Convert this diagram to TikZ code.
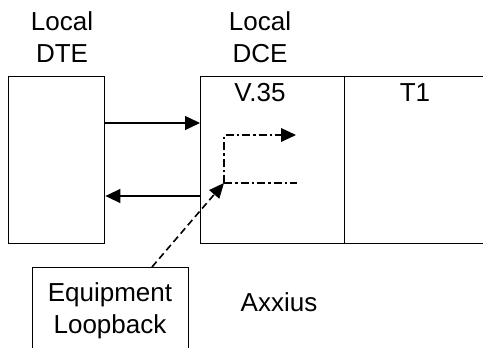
\documentclass[tikz,border=0pt]{standalone}
\usepackage{fontspec}
\setmainfont{Liberation Sans}
\usetikzlibrary{arrows.meta}
\begin{document}
\begin{tikzpicture}[x=1pt,y=-1pt,
  box/.style={draw,line width=1.4pt,rectangle,inner sep=0pt,anchor=north west},
  lbl/.style={font=\fontsize{26}{32}\selectfont,align=center,inner sep=0pt},
  tip/.style={-{Triangle[length=15pt,width=14pt]}},
  line/.style={line width=1.4pt},
  dashdot/.style={line width=1.6pt,dash pattern=on 8pt off 3pt on 2.5pt off 3pt},
  dashline/.style={line width=1.6pt,dash pattern=on 7pt off 4pt}]
\useasboundingbox (0,0) rectangle (483,348);
\clip (0,0) rectangle (483,348);
% boxes
\node[box,minimum width=96pt,minimum height=167pt] (dte) at (8,76) {};
\node[box,minimum width=144pt,minimum height=167pt] (dce) at (200,76) {};
\node[box,minimum width=160pt,minimum height=167pt] (t1) at (344,76) {};
\node[box,minimum width=156pt,minimum height=100pt] (eq) at (32,267) {};
% labels
\node[lbl,anchor=base] (ldte) at (62,62.5) {Local\\DTE};
\node[lbl,anchor=base] (ldce) at (260,62.5) {Local\\DCE};
\node[lbl,anchor=base] (v35) at (260,101.5) {V.35};
\node[lbl,anchor=base] (t1l) at (415,101.5) {T1};
\node[lbl,anchor=base] (eql) at (110,333) {Equipment\\Loopback};
\node[lbl,anchor=base] (ax) at (279,311.5) {Axxius};
% coordinates
\coordinate (a1) at (dte.east |- 0,123);
\coordinate (a2) at (dce.west |- 0,123);
\coordinate (b1) at (dce.west |- 0,196);
\coordinate (b2) at (dte.east |- 0,196);
\coordinate (lp) at (224,183);
\coordinate (lu) at (224,135);
\coordinate (lo) at (296,135);
\coordinate (le) at (297,183);
\coordinate (es) at (152,267);
% arrows
\draw[line,tip] (a1) -- (a2);
\draw[line,tip] (b1) -- (b2);
\draw[dashdot,-{Triangle[length=15pt,width=14pt,line width=0pt]}] (lp) -- (lu) -- (lo);
\draw[dashdot] (lp) -- (le);
\draw[dashline,-{Triangle[length=15pt,width=13pt]}] (es) -- (lp);
\end{tikzpicture}
\end{document}
